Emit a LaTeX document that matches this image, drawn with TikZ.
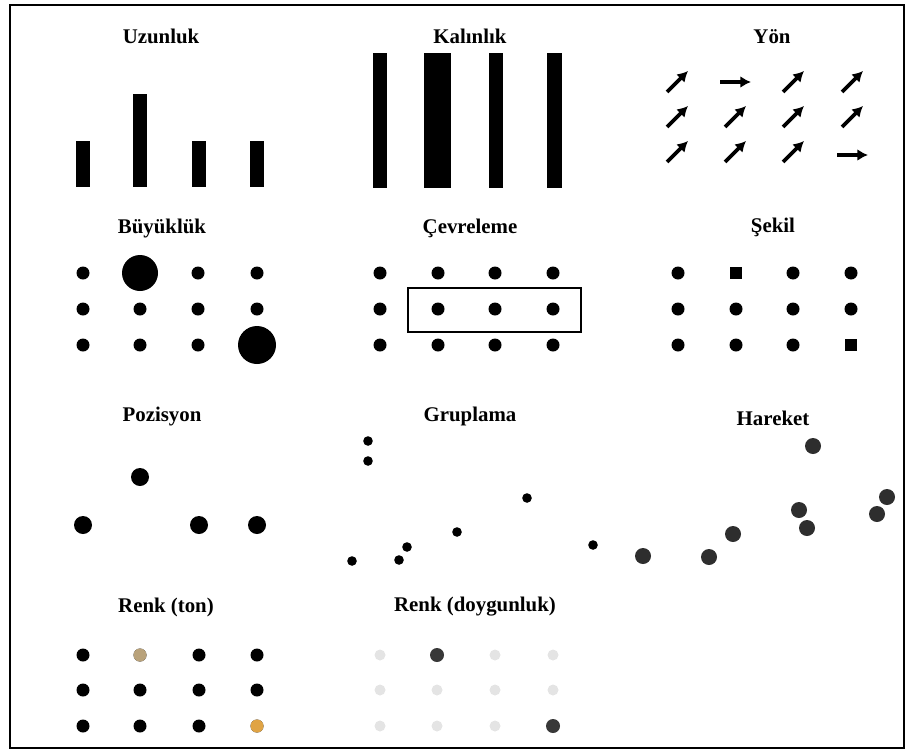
\documentclass[tikz,border=0pt]{standalone}
\usepackage{fontspec}
\setmainfont{Liberation Serif}
\usetikzlibrary{arrows.meta}
\definecolor{tonbej}{HTML}{B9A27A}
\definecolor{tonturuncu}{HTML}{E0A445}
\definecolor{hareketgri}{HTML}{2E2E2E}
\definecolor{soluk}{HTML}{E4E4E4}
\definecolor{koyu}{HTML}{383838}
\tikzset{
  baslik/.style={font=\fontsize{17.8}{20}\selectfont\bfseries, anchor=base, inner sep=0pt},
  yonok/.style={line width=3.2pt, -{Latex[length=9pt,width=10pt]}},
}
\begin{document}
\begin{tikzpicture}[x=0.03cm, y=-0.03cm]
            \useasboundingbox (0,0) rectangle (907,755);
            \draw[line width=1.6pt] (10,5) rectangle (904,748);
            % basliklar
            \node[baslik] (uzunluk) at (161,43) {Uzunluk};
            \node[baslik] (kalinlik) at (470,43) {Kalınlık};
            \node[baslik] (yon) at (772,43) {Yön};
            \node[baslik] (buyukluk) at (162,233) {Büyüklük};
            \node[baslik] (cevreleme) at (470,233) {Çevreleme};
            \node[baslik] (sekil) at (773,232) {Şekil};
            \node[baslik] (pozisyon) at (162,421) {Pozisyon};
            \node[baslik] (gruplama) at (470,421) {Gruplama};
            \node[baslik] (hareket) at (773,425) {Hareket};
            \node[baslik] (renkton) at (166,612) {Renk (ton)};
            \node[baslik] (renkdoy) at (475,611) {Renk (doygunluk)};
            % uzunluk
            \foreach \x in {83,199,257} {\fill (\x-7,187) rectangle (\x+7,141);}
            \fill (133,187) rectangle (147,94);
            % kalinlik
            \foreach \x/\w in {380/7, 437.5/13.5, 496/7, 554.5/7.5} {\fill (\x-\w,188) rectangle (\x+\w,53);}
            % yon
            \foreach \x/\y in {677/82, 793/82, 852/82, 677/117, 735/117, 793/117, 852/117, 677/152, 735/152, 793/152}
              {\draw[yonok] (\x-10,\y+10) -- (\x+11,\y-11);}
            \foreach \x/\y in {735/82, 852/155} {\draw[yonok] (\x-15,\y) -- (\x+16,\y);}
            % buyukluk
            \foreach \x in {83,140,198,257} {
              \foreach \y in {273,309,345} {\fill (\x,\y) circle (6.5);}
            }
            \fill (140,273) circle (18);
            \fill (257,345) circle (19);
            % cevreleme
            \foreach \x in {380,438,495,553} {
              \foreach \y in {273,309,345} {\fill (\x,\y) circle (6.5);}
            }
            \draw[line width=2.2pt] (408,288) rectangle (581,332);
            % sekil
            \foreach \x/\y in {678/273, 793/273, 851/273, 678/309, 736/309, 793/309, 851/309, 678/345, 736/345, 793/345}
              {\fill (\x,\y) circle (6.5);}
            \foreach \x/\y in {736/273, 851/345} {\fill (\x-6,\y-6) rectangle (\x+6,\y+6);}
            % pozisyon
            \foreach \x/\y in {140/477, 83/525, 199/525, 257/525} {\fill (\x,\y) circle (9);}
            % gruplama
            \foreach \x/\y in {368/441, 368/461, 527/498, 457/532, 407/547, 399/560, 352/561, 593/545}
              {\fill (\x,\y) circle (4.8);}
            % hareket
            \foreach \x/\y in {813/446, 643/556, 709/557, 733/534, 799/510, 807/528, 877/514, 887/497}
              {\fill[hareketgri] (\x,\y) circle (8);}
            % renk (ton)
            \foreach \x in {83,140,199,257} {
              \foreach \y in {655,690,726} {\fill (\x,\y) circle (6.5);}
            }
            \fill[tonbej] (140,655) circle (6.5);
            \fill[tonturuncu] (257,726) circle (6.5);
            % renk (doygunluk)
            \foreach \x in {380,437,495,553} {
              \foreach \y in {655,690,726} {\fill[soluk] (\x,\y) circle (5.5);}
            }
            \fill[koyu] (437,655) circle (7);
            \fill[koyu] (553,726) circle (7);
\end{tikzpicture}
\end{document}
